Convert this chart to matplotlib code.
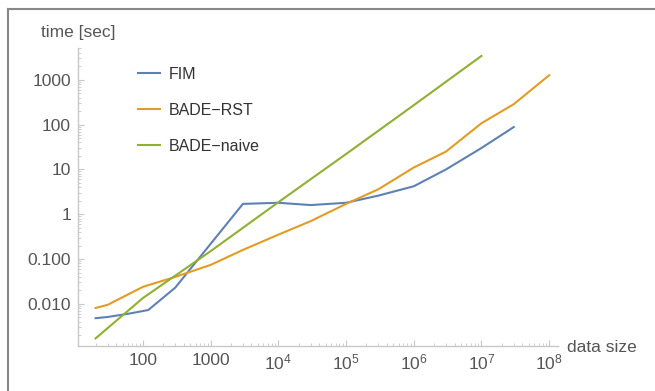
import matplotlib
matplotlib.use("Agg")
import matplotlib.pyplot as plt
from matplotlib.ticker import FixedLocator, FixedFormatter, LogLocator, NullFormatter
from matplotlib.lines import Line2D

plt.rcParams['font.family'] = ['Liberation Sans', 'DejaVu Sans']
plt.rcParams['mathtext.default'] = 'regular'

# running time vs. data size
fim_n = [20, 30, 60, 120, 300, 3000, 1e4, 3e4, 1e5, 3e5, 1e6, 3e6, 1e7, 3e7]
fim_t = [0.0048, 0.0051, 0.006, 0.0073, 0.023, 1.7, 1.8, 1.6, 1.8, 2.6, 4.2, 10, 30, 88]

rst_n = [20, 30, 100, 300, 1000, 3000, 1e4, 3e4, 1e5, 3e5, 1e6, 3e6, 1e7, 3e7, 1e8]
rst_t = [0.0081, 0.0095, 0.024, 0.04, 0.074, 0.16, 0.35, 0.7, 1.7, 3.6, 11, 25, 107, 285, 1260]

naive_n = [20, 100, 1000, 1e4, 1e5, 1e6, 1e7]
naive_t = [0.0017, 0.0135, 0.15, 1.85, 22, 270, 3400]

series = ['FIM', 'BADE\u2212RST', 'BADE\u2212naive']
colors = ['#5E81B5', '#E19C24', '#8FB032']

xticks = [100, 1000, 1e4, 1e5, 1e6, 1e7, 1e8]
xlabels = ['100', '1000', '$10^{4}$', '$10^{5}$', '$10^{6}$', '$10^{7}$', '$10^{8}$']
yticks = [0.01, 0.1, 1, 10, 100, 1000]
ylabels = ['0.010', '0.100', '1', '10', '100', '1000']

W, H = 655, 391
fig = plt.figure(figsize=(W / 100, H / 100), dpi=100)
ax = fig.add_axes([78 / W, 1 - 346 / H, 480 / W, 298 / H])

for n, t, c in zip([fim_n, rst_n, naive_n], [fim_t, rst_t, naive_t], colors):
    ax.plot(n, t, color=c, lw=1.5)

ax.set_xscale('log')
ax.set_yscale('log')
ax.set_xlim(11, 1.35e8)
ax.set_ylim(0.00115, 5100)

ax.xaxis.set_major_locator(FixedLocator(xticks))
ax.xaxis.set_major_formatter(FixedFormatter(xlabels))
ax.yaxis.set_major_locator(FixedLocator(yticks))
ax.yaxis.set_major_formatter(FixedFormatter(ylabels))
for a in (ax.xaxis, ax.yaxis):
    a.set_minor_locator(LogLocator(base=10, subs=range(2, 10), numticks=20))
    a.set_minor_formatter(NullFormatter())

ax.tick_params(which='both', direction='in', color='#c8c8c8', labelcolor='#555555',
               labelsize=12.5)
ax.tick_params(which='major', length=4, width=0.8, pad=5)
ax.tick_params(which='minor', length=2, width=0.6)
for s in ('top', 'right'):
    ax.spines[s].set_visible(False)
for s in ('left', 'bottom'):
    ax.spines[s].set_color('#c8c8c8')
    ax.spines[s].set_linewidth(1)

fig.text(78 / W, 1 - 33 / H, 'time [sec]', ha='center', va='center',
         fontsize=12.5, color='#555555')
fig.text(567 / W, 1 - 348 / H, 'data size', ha='left', va='center',
         fontsize=12.5, color='#555555')

handles = [Line2D([], [], color=c, lw=1.5) for c in colors]
leg = fig.legend(handles, series, loc='upper left',
                 bbox_to_anchor=(138 / W, 1 - 67 / H), frameon=False,
                 fontsize=11.5, handlelength=1.4, handletextpad=0.55,
                 labelspacing=1.3, borderpad=0, borderaxespad=0)
for t in leg.get_texts():
    t.set_color('#333333')

# outer frame (top and left edges)
fig.add_artist(Line2D([8 / W, 1], [1 - 9 / H, 1 - 9 / H], color='#888888', lw=1.5))
fig.add_artist(Line2D([8 / W, 8 / W], [0, 1 - 9 / H], color='#888888', lw=1.5))

fig.savefig('out.png', dpi=100)
